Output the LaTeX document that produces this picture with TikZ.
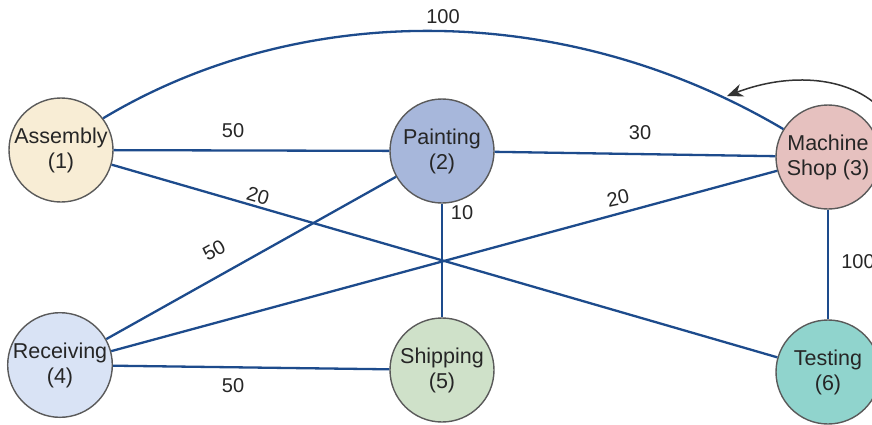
\documentclass[tikz,border=0pt]{standalone}
\usepackage{fontspec}
\setmainfont{Liberation Sans}
\usetikzlibrary{arrows.meta}
\definecolor{edgeblue}{HTML}{1D4B8C}
\definecolor{ringgray}{HTML}{5A5A5A}
\definecolor{cAsm}{HTML}{F8EDD5}
\definecolor{cPaint}{HTML}{A7B7DB}
\definecolor{cMach}{HTML}{E6C1BF}
\definecolor{cRecv}{HTML}{D9E3F5}
\definecolor{cShip}{HTML}{CFE1C9}
\definecolor{cTest}{HTML}{90D4CD}
\tikzset{
  dept/.style={circle, draw=ringgray, line width=1.4pt, minimum size=104pt, inner sep=0pt,
    align=center, font=\fontsize{21.5}{25}\selectfont, text=black!85},
  flow/.style={draw=edgeblue, line width=2.3pt},
  lab/.style={font=\fontsize{20}{24}\selectfont, text=black!85, inner sep=1pt},
  turn/.style={draw=black!80, line width=1.5pt, -{Stealth[length=16pt,width=13pt]}}
}
\begin{document}
\begin{tikzpicture}[x=1pt,y=-1pt]
\useasboundingbox (0,0) rectangle (872,424);
\fill[white] (0,0) rectangle (872,424);
\node[dept, fill=cAsm] (asm) at (61,150) {Assembly\\(1)};
\node[dept, fill=cPaint] (paint) at (442,151) {Painting\\(2)};
\node[dept, fill=cMach] (mach) at (828,157) {Machine\\Shop (3)};
\node[dept, fill=cRecv] (recv) at (60,365) {Receiving\\(4)};
\node[dept, fill=cShip] (ship) at (442,370) {Shipping\\(5)};
\node[dept, fill=cTest] (test) at (828,372) {Testing\\(6)};
% connectors
\draw[flow] (asm.37) .. controls (300,0) and (565,0) .. (mach.148);
\draw[flow] (asm) -- (paint);
\draw[flow] (paint) -- (mach);
\draw[flow] (asm) -- (test);
\draw[flow] (recv) -- (paint);
\draw[flow] (recv) -- (mach);
\draw[flow] (paint) -- (ship);
\draw[flow] (recv) -- (ship);
\draw[flow] (mach) -- (test);
% labels
\node[lab] (l1) at (443,17) {100};
\node[lab] (l2) at (233,131) {50};
\node[lab] (l3) at (640,133) {30};
\node[lab, rotate=-16] (l4) at (258,196) {20};
\node[lab, rotate=29] (l5) at (214,250) {50};
\node[lab, rotate=12] (l6) at (618,198) {20};
\node[lab] (l7) at (462,213) {10};
\node[lab] (l8) at (233,386) {50};
\node[lab] (l9) at (858,262) {100};
% turn arrow
\coordinate (arcstart) at (882,110);
\coordinate (arctip) at (727,96);
\draw[turn] (arcstart) .. controls (850,76) and (790,72) .. (arctip);
\end{tikzpicture}
\end{document}
